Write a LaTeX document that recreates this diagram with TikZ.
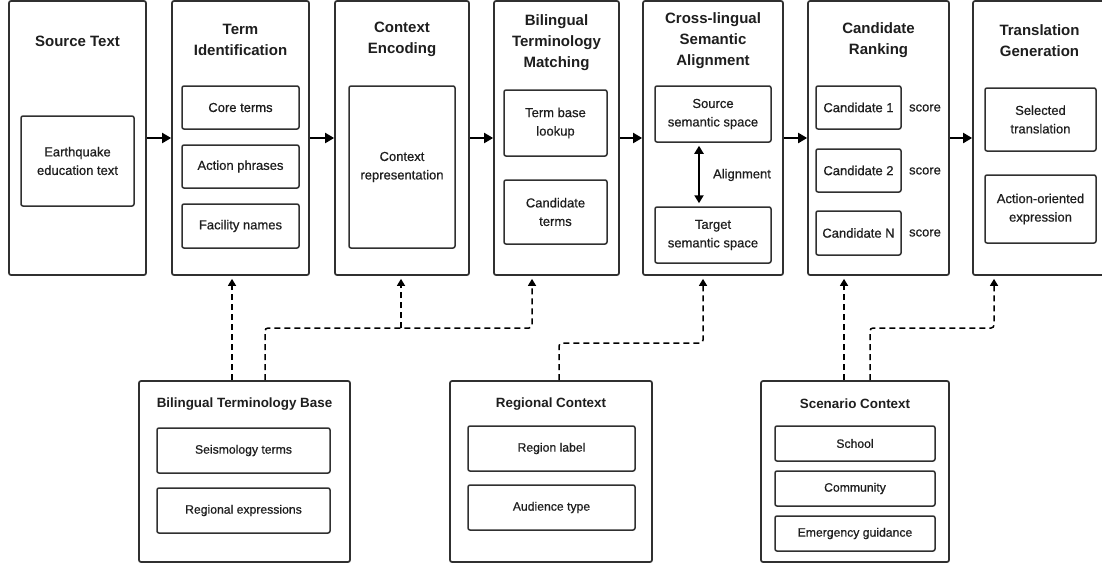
\documentclass[tikz,border=0pt]{standalone}
\usepackage{fontspec}
\setmainfont{Liberation Sans}
\newfontface\medface{Liberation Sans}[FakeBold=0.6]
\usetikzlibrary{arrows.meta,calc}
\definecolor{ink}{HTML}{303030}
\definecolor{txt}{HTML}{1E1E1E}
\tikzset{
  stage/.style={draw=ink, line width=1.7pt, rounded corners=2pt, fill=white, inner sep=0pt},
  part/.style={draw=ink, line width=1.5pt, rounded corners=2pt, inner sep=0pt,
    text=txt, align=center, font=\medface\fontsize{13}{18.5}\selectfont},
  lowpart/.style={part, font=\medface\fontsize{12.2}{17}\selectfont},
  ttl/.style={text=txt, align=center, font=\bfseries\fontsize{15}{21}\selectfont},
  lowttl/.style={text=txt, font=\bfseries\fontsize{13.4}{16}\selectfont},
  plain/.style={text=txt, font=\medface\fontsize{13}{16}\selectfont},
  flow/.style={draw=black, line width=2pt, -{Triangle[length=9pt,width=10pt]}},
  dep/.style={draw=black, line width=1.5pt, dash pattern=on 6pt off 4pt,
    rounded corners=3pt, -{Triangle[length=7pt,width=8pt]}, shorten >=3pt},
  twoway/.style={draw=black, line width=2pt, {Triangle[length=8pt,width=9pt]}-{Triangle[length=8pt,width=9pt]}, shorten >=3pt, shorten <=3pt}
}
\begin{document}
\begin{tikzpicture}[x=1pt,y=-1pt]
\useasboundingbox (0,0) rectangle (1102,565);
\fill[white] (0,0) rectangle (1102,565);
\clip (0,0) rectangle (1102,565);

% pipeline stages
\node[stage, minimum width=137pt, minimum height=274pt] (src) at (77.5,138) {};
\node[stage, minimum width=137pt, minimum height=274pt] (tid) at (240.5,138) {};
\node[stage, minimum width=134pt, minimum height=274pt] (ctx) at (402,138) {};
\node[stage, minimum width=125pt, minimum height=274pt] (btm) at (556.5,138) {};
\node[stage, minimum width=140pt, minimum height=274pt] (csa) at (713,138) {};
\node[stage, minimum width=141pt, minimum height=274pt] (rank) at (878.5,138) {};
\node[stage, minimum width=135pt, minimum height=274pt] (gen) at (1040.5,138) {};

% stage titles
\node[ttl] (srcT) at (77.5,41) {Source Text};
\node[ttl] (tidT) at (240.5,39.5) {Term\\Identification};
\node[ttl] (ctxT) at (402,39.5) {Context\\Encoding};
\node[ttl] (btmT) at (556.5,42.5) {Bilingual\\Terminology\\Matching};
\node[ttl] (csaT) at (713,41) {Cross-lingual\\Semantic\\Alignment};
\node[ttl] (rankT) at (878.5,40.5) {Candidate\\Ranking};
\node[ttl] (genT) at (1039.5,40.5) {Translation\\Generation};

% stage contents
\node[part, minimum width=113pt, minimum height=90pt] (eq) at (77.5,161) {Earthquake\\education text};

\node[part, minimum width=117pt, minimum height=43pt] (core) at (240.5,107.5) {Core terms};
\node[part, minimum width=117pt, minimum height=43pt] (act) at (240.5,166.5) {Action phrases};
\node[part, minimum width=117pt, minimum height=44pt] (fac) at (240.5,226) {Facility names};

\node[part, minimum width=106pt, minimum height=162pt] (crep) at (402,167) {Context\\representation};

\node[part, minimum width=103pt, minimum height=66pt] (look) at (555.5,123) {Term base\\lookup};
\node[part, minimum width=103pt, minimum height=64pt] (cand) at (555.5,212) {Candidate\\terms};

\node[part, minimum width=116pt, minimum height=56pt] (sss) at (713,114) {Source\\semantic space};
\node[part, minimum width=116pt, minimum height=56pt] (tss) at (713,235) {Target\\semantic space};
\draw[twoway] (sss.south -| 699,0) -- (tss.north -| 699,0);
\node[plain] (alg) at (742,175) {Alignment};

\node[part, minimum width=85pt, minimum height=43pt] (c1) at (858.5,107.5) {Candidate 1};
\node[part, minimum width=85pt, minimum height=43pt] (c2) at (858.5,170.5) {Candidate 2};
\node[part, minimum width=85pt, minimum height=44pt] (cn) at (858.5,233) {Candidate N};
\node[plain] (s1) at (925,108) {score};
\node[plain] (s2) at (925,171) {score};
\node[plain] (sn) at (925,233) {score};

\node[part, minimum width=111pt, minimum height=63pt] (sel) at (1040.5,119.5) {Selected\\translation};
\node[part, minimum width=111pt, minimum height=68pt] (aoe) at (1040.5,209) {Action-oriented\\expression};

% main flow
\draw[flow] (src.east) -- (tid.west);
\draw[flow] (tid.east) -- (ctx.west);
\draw[flow] (ctx.east) -- (btm.west);
\draw[flow] (btm.east) -- (csa.west);
\draw[flow] (csa.east) -- (rank.west);
\draw[flow] (rank.east) -- (gen.west);

% knowledge sources
\node[stage, minimum width=211pt, minimum height=181pt] (base) at (244.5,471.5) {};
\node[lowttl] (baseT) at (244.5,404) {Bilingual Terminology Base};
\node[lowpart, minimum width=173pt, minimum height=45pt] (seis) at (243.5,450.5) {Seismology terms};
\node[lowpart, minimum width=173pt, minimum height=45pt] (rexp) at (243.5,510.5) {Regional expressions};

\node[stage, minimum width=202pt, minimum height=181pt] (reg) at (551,471.5) {};
\node[lowttl] (regT) at (551,404) {Regional Context};
\node[lowpart, minimum width=167pt, minimum height=45pt] (rlab) at (551.5,448.5) {Region label};
\node[lowpart, minimum width=167pt, minimum height=45pt] (aud) at (551.5,507.5) {Audience type};

\node[stage, minimum width=188pt, minimum height=181pt] (scen) at (855,471.5) {};
\node[lowttl] (scenT) at (855,404) {Scenario Context};
\node[lowpart, minimum width=160pt, minimum height=35pt] (sch) at (855,443.5) {School};
\node[lowpart, minimum width=160pt, minimum height=35pt] (com) at (855,488.5) {Community};
\node[lowpart, minimum width=160pt, minimum height=35pt] (emg) at (855,533.5) {Emergency guidance};

% dependencies
\draw[dep] (base.north -| 232,0) -- (tid.south -| 232,0);
\coordinate (j1) at (401,328);
\draw[dep] (base.north -| 265,0) -- (265,328) -- (532,328) -- (btm.south -| 532,0);
\draw[dep] (j1) -- (ctx.south -| 401,0);
\draw[dep] (reg.north -| 559,0) -- (559,343) -- (703,343) -- (csa.south -| 703,0);
\draw[dep] (scen.north -| 844,0) -- (rank.south -| 844,0);
\draw[dep] (scen.north -| 870,0) -- (870,328) -- (994,328) -- (gen.south -| 994,0);
\end{tikzpicture}
\end{document}
